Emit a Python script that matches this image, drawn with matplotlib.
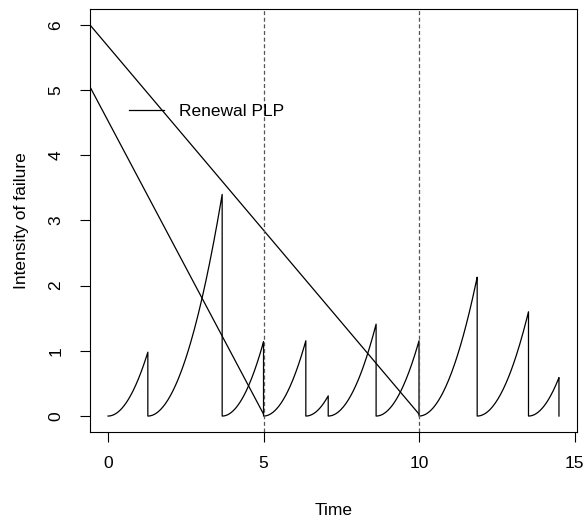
import numpy as np
import matplotlib
matplotlib.use("Agg")
import matplotlib.pyplot as plt

plt.rcParams['font.family'] = ['Liberation Sans', 'DejaVu Sans']

# Failure (renewal) times and intensity just before each failure
fail_times = [0.0, 1.28, 3.67, 5.0, 6.36, 7.08, 8.62, 10.0, 11.87, 13.52, 14.5]
peak_intensity = [0.98, 3.40, 1.14, 1.155, 0.31, 1.41, 1.155, 2.13, 1.60, 0.59]
plp_exponent = 2.0  # beta - 1 of the power-law process

# Two straight reference lines
line1_x = [-0.58, 5.0]
line1_y = [5.05, 0.03]
line2_x = [-0.58, 10.0]
line2_y = [6.0, 0.03]

# Vertical dashed markers
vlines_x = [5, 10]

x_ticks = [0, 5, 10, 15]
y_ticks = [0, 1, 2, 3, 4, 5, 6]

fig = plt.figure(figsize=(5.85, 5.22), dpi=100)
ax = fig.add_axes([90/585, (522-431.7)/522, (577-90)/585, (431.7-9.3)/522])

# Build renewal PLP curve
xs, ys = [], []
for i in range(len(peak_intensity)):
    t0, t1 = fail_times[i], fail_times[i+1]
    s = np.linspace(0, 1, 60)
    xs.extend(t0 + s*(t1 - t0))
    ys.extend(peak_intensity[i] * s**plp_exponent)
    xs.append(t1)
    ys.append(0.0)

lw = 0.9
ax.plot(xs, ys, color='black', lw=lw, label='Renewal PLP')
ax.plot(line1_x, line1_y, color='black', lw=lw)
ax.plot(line2_x, line2_y, color='black', lw=lw)
for v in vlines_x:
    ax.axvline(v, color='#555555', lw=lw, dashes=(3.2, 2.1))

xmin, xmax = 0.0, 14.5
ax.set_xlim(xmin - 0.04*(xmax-xmin), xmax + 0.04*(xmax-xmin))
ax.set_ylim(-0.24, 6.24)
ax.set_xticks(x_ticks)
ax.set_yticks(y_ticks)
fs = 12.5
ax.set_xticklabels([str(t) for t in x_ticks], fontsize=fs)
ax.set_yticklabels([str(t) for t in y_ticks], fontsize=fs, rotation=90, va='center')
ax.tick_params(direction='out', length=7.2, width=0.8, pad=10, colors='black')
ax.tick_params(axis='y', pad=12)
for sp in ax.spines.values():
    sp.set_linewidth(0.8)
    sp.set_color('black')

ax.set_xlabel('Time', fontsize=fs, labelpad=23)
ax.set_ylabel('Intensity of failure', fontsize=fs, labelpad=14)

ax.legend(loc='center left', bbox_to_anchor=((129-90)/487, (431.7-111.7)/422.4),
          frameon=False, fontsize=fs, handlelength=2.0, handletextpad=0.9,
          borderpad=0, borderaxespad=0)

fig.savefig('out.png', dpi=100)
